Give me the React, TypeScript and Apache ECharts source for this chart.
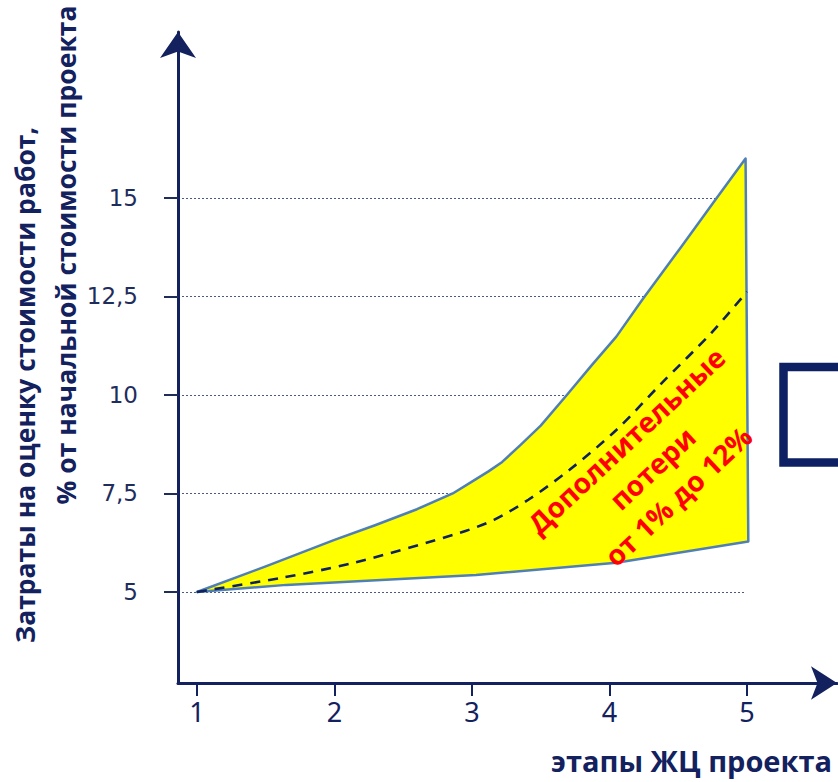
import React, { useEffect, useRef } from "react";
import * as echarts from "echarts";

const upperCurve: number[][] = [
  [1, 5], [1.5, 5.65], [2, 6.32], [2.3, 6.7], [2.6, 7.1], [2.86, 7.5], [3, 7.8],
  [3.12, 8.06], [3.22, 8.3], [3.35, 8.72], [3.5, 9.22], [3.69, 10.0], [3.87, 10.75],
  [4.05, 11.48], [4.24, 12.42], [4.52, 13.75], [4.76, 14.9], [4.99, 16.0],
];
const lowerCurve: number[][] = [
  [1, 5], [1.65, 5.18], [3.03, 5.43], [4.05, 5.74], [5.01, 6.28],
];
const dashedCurve: number[][] = [
  [1, 5], [1.6, 5.35], [2.14, 5.74], [2.91, 6.5], [3.16, 6.83], [3.41, 7.34],
  [3.71, 8.1], [4.05, 9.11], [4.38, 10.3], [4.74, 11.57], [5, 12.62],
];
const yTicks = [5, 7.5, 10, 12.5, 15];
const xTicks = [1, 2, 3, 4, 5];
const xRange = [0.862, 5.655];
const yRange = [2.69, 19.21];
const gridEndX = 4.98;

const yTitle1 = "Затраты на оценку стоимости работ,";
const yTitle2 = "% от начальной стоимости проекта";
const xTitle = "этапы ЖЦ проекта";
const note = "Дополнительные\nпотери\nот 1% до 12%";

const NAVY = "#13215e";

export default function App() {
  const ref = useRef<HTMLDivElement>(null);
  useEffect(() => {
    if (!ref.current) return;
    const chart = echarts.init(ref.current, undefined, { renderer: "svg" });
    const outline = [...upperCurve, ...lowerCurve.slice().reverse()];
    chart.setOption({
      animation: false,
      grid: { left: 178, top: 32, right: 1, bottom: 99 },
      xAxis: {
        type: "value",
        min: xRange[0],
        max: xRange[1],
        axisLine: {
          show: true,
          symbol: ["none", "arrow"],
          symbolSize: [25, 26],
          lineStyle: { color: NAVY, width: 3 },
        },
        axisTick: { show: true, customValues: xTicks, length: 13, lineStyle: { color: NAVY, width: 2 } },
        axisLabel: {
          customValues: xTicks,
          margin: 15,
          fontSize: 27,
          fontFamily: "'Liberation Sans Narrow', 'Noto Sans', sans-serif",
          color: NAVY,
        },
        splitLine: { show: false },
      },
      yAxis: {
        type: "value",
        min: yRange[0],
        max: yRange[1],
        axisLine: {
          show: true,
          symbol: ["none", "arrow"],
          symbolSize: [27, 26],
          lineStyle: { color: NAVY, width: 3 },
        },
        axisTick: { show: true, customValues: yTicks, length: 14, lineStyle: { color: "#1f2d5c", width: 2 } },
        axisLabel: {
          customValues: yTicks,
          margin: 40,
          fontSize: 23,
          fontFamily: "'DejaVu Sans', Verdana, sans-serif",
          color: "#1f2d5c",
          formatter: (v: number) => String(v).replace(".", ","),
        },
        splitLine: { show: false },
      },
      series: [
        {
          type: "custom",
          z: 1,
          clip: false,
          data: [[1, 5]],
          renderItem: (params: any, api: any) => {
            const pts = outline.map((p) => api.coord(p));
            return {
              type: "polygon",
              shape: { points: pts },
              style: { fill: "#ffff00", stroke: "#4f7fb5", lineWidth: 2.5, lineJoin: "round" },
            };
          },
        },
        {
          type: "line",
          z: 3,
          data: dashedCurve,
          smooth: 0.3,
          symbol: "none",
          lineStyle: { color: "#0f2260", width: 2.6, type: [10, 8] },
          markLine: {
            silent: true,
            symbol: "none",
            z: 0,
            label: { show: false },
            lineStyle: { color: "#4a5a85", width: 1, type: [2, 2] },
            data: yTicks.map((v) => [
              { coord: [xRange[0], v] },
              { coord: [gridEndX, v] },
            ]),
          },
        },
      ],
      graphic: [
        {
          type: "text",
          x: 25,
          y: 385,
          rotation: Math.PI / 2,
          style: {
            text: yTitle1,
            fill: NAVY,
            fontSize: 26.5,
            fontWeight: "bold",
            fontFamily: "'Open Sans', 'Noto Sans', sans-serif",
            textAlign: "center",
            textVerticalAlign: "middle",
          },
        },
        {
          type: "text",
          x: 66,
          y: 255,
          rotation: Math.PI / 2,
          style: {
            text: yTitle2,
            fill: NAVY,
            fontSize: 26.5,
            fontWeight: "bold",
            fontFamily: "'Open Sans', 'Noto Sans', sans-serif",
            textAlign: "center",
            textVerticalAlign: "middle",
          },
        },
        {
          type: "text",
          x: 832,
          y: 760,
          style: {
            text: xTitle,
            fill: NAVY,
            fontSize: 29,
            fontWeight: "bold",
            fontFamily: "'Open Sans', 'Noto Sans', sans-serif",
            textAlign: "right",
            textVerticalAlign: "middle",
          },
        },
        {
          type: "text",
          x: 652,
          y: 468,
          z: 10,
          rotation: (43 * Math.PI) / 180,
          style: {
            text: note,
            fill: "#ff0000",
            fontSize: 28,
            lineHeight: 38,
            fontWeight: "bold",
            fontFamily: "'Open Sans', 'Noto Sans', sans-serif",
            textAlign: "center",
            textVerticalAlign: "middle",
          },
        },
        {
          type: "rect",
          shape: { x: 783.5, y: 367, width: 100, height: 95.5 },
          style: { fill: "none", stroke: "#0d2064", lineWidth: 8.5 },
        },
      ],
    });
    return () => chart.dispose();
  }, []);
  return (
    <div
      ref={ref}
      style={{ position: "fixed", left: 0, top: 0, width: 838, height: 782, background: "#fff" }}
    />
  );
}
